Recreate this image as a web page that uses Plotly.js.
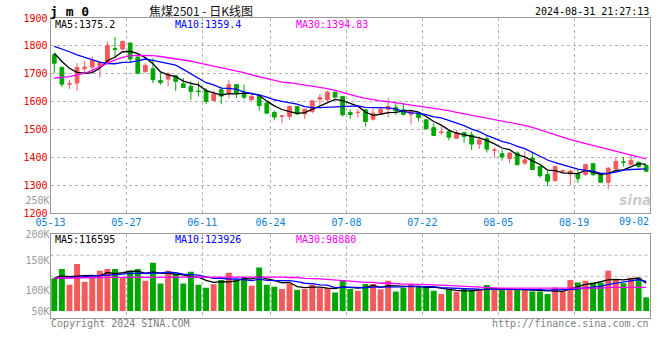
<!DOCTYPE html>
<html>
<head>
<meta charset="utf-8">
<script src="https://cdn.plot.ly/plotly-3.0.1.min.js"></script>
<style>html,body{margin:0;padding:0;background:#fff}#chart{width:660px;height:360px}</style>
</head>
<body>
<div id="chart"></div>
<script>
// ---------------- data ----------------
const DATES = ['05-13','05-14','05-15','05-16','05-17','05-20','05-21','05-22','05-23','05-24',
  '05-27','05-28','05-29','05-30','05-31','06-03','06-04','06-05','06-06','06-07',
  '06-11','06-12','06-13','06-14','06-17','06-18','06-19','06-20','06-21','06-24',
  '06-25','06-26','06-27','06-28','07-01','07-02','07-03','07-04','07-05','07-08',
  '07-09','07-10','07-11','07-12','07-15','07-16','07-17','07-18','07-19','07-22',
  '07-23','07-24','07-25','07-26','07-29','07-30','07-31','08-01','08-02','08-05',
  '08-06','08-07','08-08','08-09','08-12','08-13','08-14','08-15','08-16','08-19',
  '08-20','08-21','08-22','08-23','08-26','08-27','08-28','08-29','08-30'];

const OPEN = [1768,1723,1663,1667,1718,1724,1726,1738,1790,1789,
  1810,1760,1708,1718,1676,1681,1693,1664,1655,1638,
  1640,1604,1643,1631,1661,1631,1607,1619,1595,1561,
  1547,1547,1583,1556,1565,1609,1607,1634,1619,1561,
  1561,1571,1537,1559,1573,1580,1571,1555,1559,1535,
  1507,1490,1493,1469,1489,1481,1448,1467,1426,1414,
  1396,1416,1380,1398,1368,1339,1317,1351,1341,1341,
  1339,1378,1339,1311,1359,1384,1374,1383,1371];
const HIGH = [1774,1726,1678,1738,1744,1762,1741,1816,1832,1818,
  1812,1772,1738,1756,1702,1705,1694,1685,1673,1670,
  1649,1640,1655,1678,1664,1661,1633,1620,1597,1568,
  1553,1586,1584,1574,1604,1627,1639,1635,1620,1573,
  1573,1572,1577,1583,1613,1595,1595,1567,1562,1537,
  1523,1511,1494,1499,1493,1493,1475,1479,1436,1428,
  1419,1422,1422,1416,1369,1351,1369,1357,1357,1357,
  1378,1380,1345,1365,1398,1402,1410,1386,1374];
const LOW = [1702,1652,1646,1639,1702,1705,1687,1736,1756,1786,
  1738,1699,1702,1667,1661,1655,1639,1649,1607,1619,
  1591,1601,1591,1613,1613,1609,1604,1568,1556,1533,
  1523,1535,1553,1539,1559,1589,1595,1613,1547,1539,
  1543,1511,1532,1553,1544,1553,1550,1519,1529,1501,
  1477,1481,1461,1467,1453,1427,1431,1418,1400,1389,
  1380,1373,1374,1356,1327,1297,1315,1342,1300,1309,
  1333,1333,1310,1285,1358,1368,1373,1362,1347];
const CLOSE = [1738,1663,1664,1723,1724,1747,1741,1802,1788,1816,
  1753,1702,1730,1679,1669,1700,1673,1651,1637,1637,
  1601,1627,1620,1661,1631,1616,1619,1586,1559,1545,
  1549,1583,1556,1573,1603,1615,1634,1616,1553,1554,
  1562,1529,1559,1573,1583,1567,1555,1565,1543,1503,
  1479,1491,1473,1489,1475,1448,1463,1430,1427,1402,
  1416,1374,1392,1357,1335,1315,1368,1352,1351,1324,
  1374,1339,1311,1362,1386,1383,1390,1368,1351];

const MA5 = [1774,1744,1720,1705,1702,1704,1720,1747,1760,1779,
  1780,1772,1758,1736,1707,1696,1690,1674,1666,1660,
  1640,1631,1624,1629,1628,1631,1629,1623,1602,1585,
  1572,1564,1558,1561,1573,1586,1596,1608,1604,1594,
  1584,1563,1551,1555,1561,1562,1567,1569,1563,1547,
  1529,1516,1498,1487,1481,1475,1470,1461,1449,1434,
  1428,1410,1402,1388,1375,1355,1353,1345,1344,1342,
  1354,1348,1340,1342,1354,1356,1366,1378,1375.2];
const MA10 = [1798,1789,1779,1768,1759,1750,1742,1737,1736,1741,
  1742,1746,1753,1748,1743,1738,1731,1716,1701,1683,
  1668,1660,1649,1648,1644,1635,1630,1624,1616,1607,
  1601,1597,1591,1582,1579,1579,1580,1583,1583,1584,
  1585,1580,1580,1580,1578,1573,1565,1560,1559,1554,
  1546,1542,1533,1525,1514,1502,1493,1479,1468,1458,
  1451,1440,1432,1418,1404,1391,1382,1374,1366,1358,
  1354,1351,1343,1343,1348,1355,1357,1359,1359.4];
const MA30 = [1685,1687,1690,1696,1702,1712,1724,1738,1750,1759,
  1765,1766,1766,1765,1762,1758,1753,1750,1745,1739,
  1733,1727,1721,1716,1711,1704,1696,1690,1683,1677,
  1670,1668,1664,1659,1655,1651,1647,1641,1633,1624,
  1618,1612,1607,1603,1600,1596,1592,1589,1586,1581,
  1577,1573,1568,1562,1557,1551,1546,1541,1537,1532,
  1527,1520,1515,1508,1499,1489,1480,1471,1464,1457,
  1450,1444,1436,1429,1422,1416,1410,1403,1394.83];

const VOLUME = [137000,176000,110000,197000,122000,140000,168000,176000,176000,140000,
  169000,176000,126000,202000,115000,168000,155000,115000,164000,110000,
  97000,112000,130000,160000,131000,142000,106000,182000,110000,101000,
  92000,116000,89000,92000,109000,95000,95000,77000,130000,92000,
  85000,113000,113000,91000,126000,81000,97000,113000,102000,102000,
  85000,71000,91000,80000,92000,88000,88000,109000,88000,88000,
  88000,88000,91000,81000,81000,71000,98000,81000,130000,119000,
  126000,119000,119000,168000,130000,116000,139000,139000,56000];
const VMA5 = [138000,147000,144000,147000,148000,149000,147000,161000,156000,160000,
  166000,167000,157000,163000,158000,157000,153000,151000,143000,142000,
  128000,120000,123000,122000,126000,135000,134000,144000,134000,128000,
  118000,120000,102000,98000,100000,100000,96000,94000,101000,98000,
  96000,99000,107000,99000,106000,105000,102000,102000,104000,99000,
  100000,95000,90000,86000,84000,84000,88000,91000,93000,92000,
  92000,92000,89000,87000,86000,82000,84000,82000,92000,100000,
  111000,115000,123000,130000,132000,130000,134000,138000,116595];
const VMA10 = [135000,137000,138000,140000,142000,145000,148000,150000,152000,154000,
  157000,157000,159000,160000,159000,162000,160000,154000,153000,150000,
  143000,136000,137000,133000,134000,132000,127000,133000,128000,127000,
  127000,127000,123000,116000,114000,109000,108000,98000,100000,99000,
  98000,98000,100000,100000,102000,100000,101000,104000,101000,102000,
  102000,98000,96000,95000,91000,92000,91000,91000,89000,88000,
  88000,90000,90000,90000,89000,87000,88000,86000,90000,93000,
  97000,100000,103000,111000,116000,121000,125000,131000,123926];
const VMA30 = [137000,137000,138000,138000,139000,139000,140000,141000,141000,142000,
  142000,143000,143000,143000,144000,144000,144000,144000,144000,144000,
  144000,144000,144000,144000,144000,144000,144000,144000,144000,144000,
  142000,140000,140000,136000,136000,134000,132000,128000,127000,125000,
  122000,120000,120000,116000,117000,114000,112000,112000,110000,109000,
  109000,108000,106000,104000,102000,101000,100000,98000,97000,96000,
  96000,95000,95000,95000,94000,93000,93000,93000,93000,94000,
  96000,96000,96000,99000,99000,100000,101000,102000,98880];

const DATE_TICKS = ['05-13','05-27','06-11','06-24','07-08','07-22','08-05','08-19','09-02'];
const PRICE_TICKS = [1200,1300,1400,1500,1600,1700,1800,1900];
const VOL_TICKS = [50000,100000,150000,200000,250000];
const VOL_TICK_TEXT = ['50K','100K','150K','200K','250K'];

const SYMBOL = 'j m 0';
const TITLE = '焦煤2501 - 日K线图';
const STAMP = '2024-08-31 21:27:13';
const PRICE_MA_TEXT = ['MA5:1375.2','MA10:1359.4','MA30:1394.83'];
const VOL_MA_TEXT = ['MA5:116595','MA10:123926','MA30:98880'];
const COPYRIGHT = 'Copyright 2024 SINA.COM';
const URL_TEXT = 'http://finance.sina.com.cn';

// ---------------- style ----------------
const RED = '#f45a5a', GREEN = '#00a600';
const MA_COLORS = ['#000000', '#0000ff', '#ff00ff'];
const GRID = '#b4b4b4', BORDER = '#999999';
const MONO = 'DejaVu Sans Mono, Liberation Mono, monospace';
const W = 660, H = 360;
const px = v => v / W, py = v => 1 - v / H;
const XD = [px(50.5), px(650)];
const PD = [py(213.3), py(18)];
const VD = [py(318.3), py(234.3)];

const idx = DATES.map((d, i) => i);
const tickPos = DATE_TICKS.map(d => { const k = DATES.indexOf(d); return (k >= 0 ? k : DATES.length) - 0.5; });
const volColors = idx.map(i => CLOSE[i] >= OPEN[i] ? RED : GREEN);

const traces = [
  { type: 'candlestick', x: idx, open: OPEN, high: HIGH, low: LOW, close: CLOSE,
    xaxis: 'x', yaxis: 'y', whiskerwidth: 0, hoverinfo: 'skip',
    increasing: { line: { color: RED, width: 1 }, fillcolor: RED },
    decreasing: { line: { color: GREEN, width: 1 }, fillcolor: GREEN } },
];
[MA5, MA10, MA30].forEach((arr, k) => traces.push({
  type: 'scatter', mode: 'lines', x: idx, y: arr, xaxis: 'x', yaxis: 'y',
  line: { color: MA_COLORS[k], width: 1.3 }, hoverinfo: 'skip' }));
traces.push({ type: 'bar', x: idx, y: VOLUME, xaxis: 'x2', yaxis: 'y2',
  marker: { color: volColors, line: { width: 0 } }, hoverinfo: 'skip' });
[VMA5, VMA10, VMA30].forEach((arr, k) => traces.push({
  type: 'scatter', mode: 'lines', x: idx, y: arr, xaxis: 'x2', yaxis: 'y2',
  line: { color: MA_COLORS[k], width: 1.3 }, hoverinfo: 'skip' }));
// carriers for the volume label axes
['y3', 'y4', 'y5'].forEach(ya => traces.push({ type: 'scatter', x: [], y: [], xaxis: 'x3', yaxis: ya, hoverinfo: 'skip' }));

const gridAxis = { showgrid: true, gridcolor: GRID, griddash: 'dot', gridwidth: 1,
  showline: true, linecolor: BORDER, linewidth: 1, mirror: true, ticks: '', zeroline: false, fixedrange: true };
const labelAxis = { anchor: 'x3', showgrid: false, zeroline: false, showline: false, ticks: '', tickmode: 'array',
  tickfont: { family: MONO, size: 10, color: '#999' }, fixedrange: true };

// main label scale (100K, 150K, 250K); 50K and 200K sit on their own short scales
const mainIdx = [1, 2, 4];

const annotations = [
  { text: '<b>' + SYMBOL + '</b>', x: px(49), y: py(11), xanchor: 'left', font: { family: MONO, size: 13, color: '#000' } },
  { text: TITLE, x: px(201), y: py(10), xanchor: 'center', font: { family: 'Noto Sans CJK SC', size: 12, color: '#111' } },
  { text: STAMP, x: px(650), y: py(12), xanchor: 'right', font: { family: MONO, size: 10, color: '#000' } },
  { text: DATE_TICKS[DATE_TICKS.length - 1], x: tickPos[tickPos.length - 1], xref: 'x', y: py(221.5), xanchor: 'right',
    font: { family: MONO, size: 10, color: '#0a80dc' } },
  { text: COPYRIGHT, x: px(50), y: py(323), xanchor: 'left', font: { family: MONO, size: 10, color: '#808080' } },
  { text: URL_TEXT, x: px(650), y: py(323), xanchor: 'right', font: { family: MONO, size: 10, color: '#808080' } },
  { text: '<i><b>sina</b></i>', x: px(635), y: py(200), xanchor: 'center', font: { family: 'DejaVu Sans', size: 14, color: 'rgba(185,185,185,0.75)' } },
];
const legX = [54, 174, 295];
PRICE_MA_TEXT.forEach((t, k) => annotations.push({ text: t, x: px(legX[k]), y: py(24.5), xanchor: 'left',
  font: { family: MONO, size: 10, color: MA_COLORS[k] } }));
VOL_MA_TEXT.forEach((t, k) => annotations.push({ text: t, x: px(legX[k]), y: py(239.5), xanchor: 'left',
  font: { family: MONO, size: 10, color: MA_COLORS[k] } }));
annotations.forEach(a => { a.showarrow = false; a.xref = a.xref || 'paper'; a.yref = 'paper'; a.yanchor = 'middle'; a.borderpad = 0; });

const shapes = [0.25, 0.5, 0.75].map(f => ({ type: 'line', xref: 'x2 domain', x0: 0, x1: 1, yref: 'y2 domain', y0: f, y1: f,
  line: { color: GRID, width: 1, dash: 'dot' }, layer: 'below' }));

const layout = {
  width: W, height: H, margin: { l: 0, r: 0, t: 0, b: 0 },
  paper_bgcolor: '#ffffff', plot_bgcolor: 'rgba(0,0,0,0)',
  showlegend: false, hovermode: false, boxgap: 0.3, bargap: 0.22,
  font: { family: MONO, size: 10 },
  xaxis: Object.assign({}, gridAxis, { domain: XD, anchor: 'y', range: [-0.5, DATES.length - 0.5],
    tickmode: 'array', tickvals: tickPos.slice(0, -1), ticktext: DATE_TICKS.slice(0, -1),
    tickfont: { family: MONO, size: 10, color: '#0a80dc' }, rangeslider: { visible: false } }),
  xaxis2: Object.assign({}, gridAxis, { domain: XD, anchor: 'y2', matches: 'x',
    tickmode: 'array', tickvals: tickPos, showticklabels: false }),
  xaxis3: { domain: XD, anchor: 'y3', visible: false, range: [0, 1], fixedrange: true },
  yaxis: Object.assign({}, gridAxis, { domain: PD, anchor: 'x', range: [1200, 1900],
    tickmode: 'array', tickvals: PRICE_TICKS, ticktext: PRICE_TICKS.map(String),
    tickfont: { family: MONO, size: 10, color: '#e40000' } }),
  yaxis2: Object.assign({}, gridAxis, { domain: VD, anchor: 'x2', range: [-30700, 320900],
    showgrid: false, showticklabels: false }),
  yaxis3: Object.assign({}, labelAxis, { domain: [py(320), py(195)], range: [50000, 258333],
    tickvals: mainIdx.map(i => VOL_TICKS[i]), ticktext: mainIdx.map(i => VOL_TICK_TEXT[i]) }),
  yaxis4: Object.assign({}, labelAxis, { domain: [py(316), py(306)], range: [45000, 55000],
    tickvals: [VOL_TICKS[0]], ticktext: [VOL_TICK_TEXT[0]] }),
  yaxis5: Object.assign({}, labelAxis, { domain: [py(239.5), py(229.5)], range: [195000, 205000],
    tickvals: [VOL_TICKS[3]], ticktext: [VOL_TICK_TEXT[3]] }),
  annotations: annotations,
  shapes: shapes,
};

Plotly.newPlot('chart', traces, layout, { staticPlot: true, displayModeBar: false });
</script>
</body>
</html>
